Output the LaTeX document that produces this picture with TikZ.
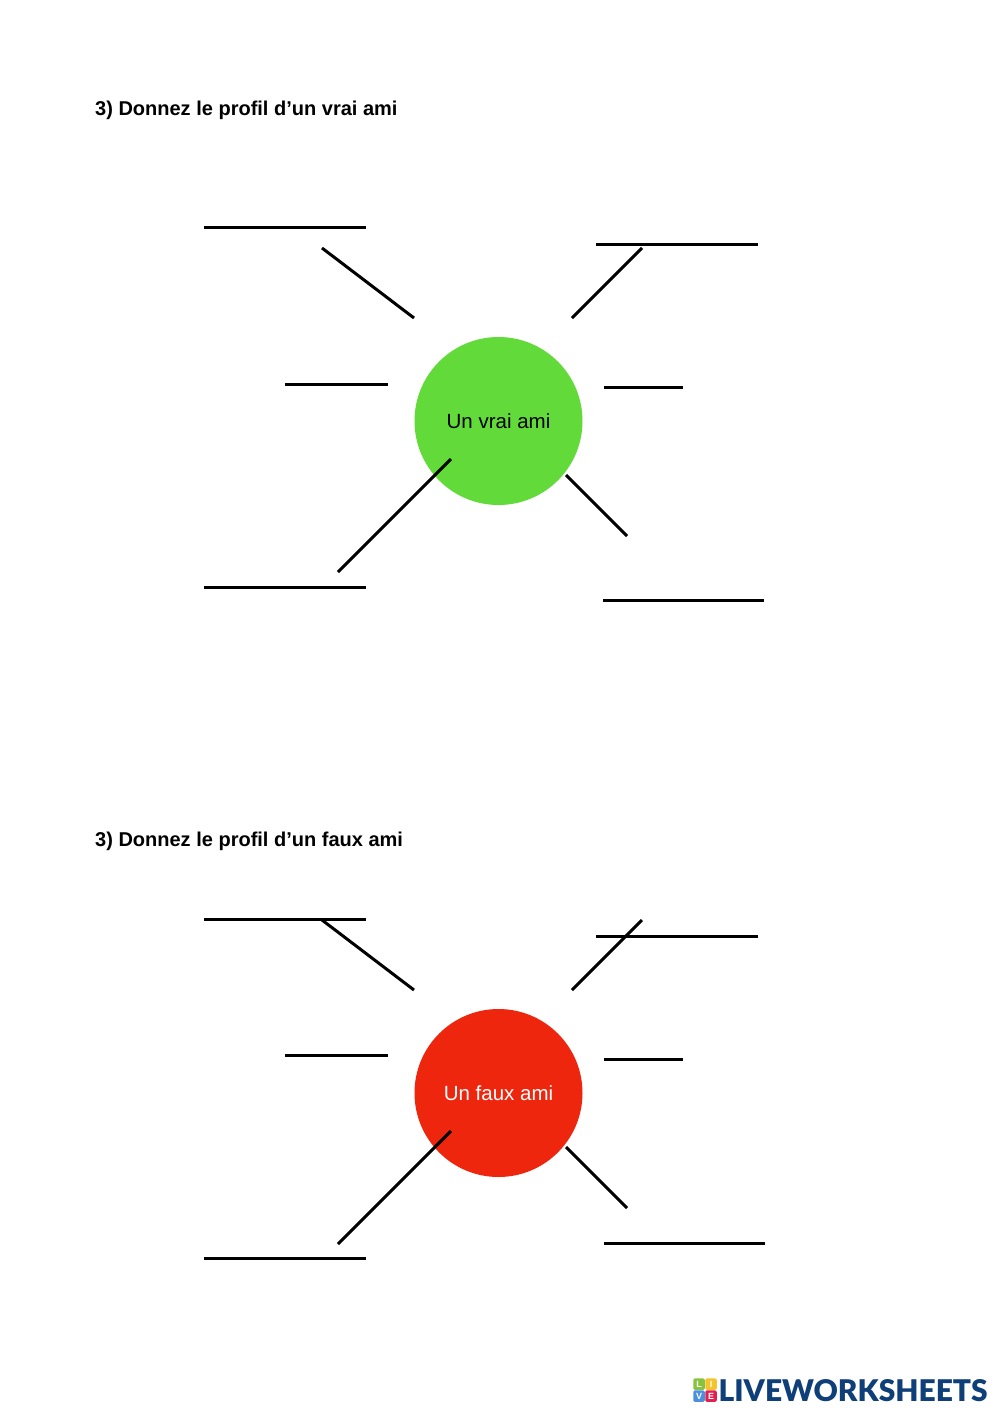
\documentclass[tikz,border=0pt]{standalone}
\usepackage{fontspec}
\setmainfont{Liberation Sans}
\setsansfont{TeX Gyre Heros}
\newfontfamily\logofont{Lato Black}
\definecolor{vert}{HTML}{62DA3A}
\definecolor{rouge}{HTML}{EE260E}
\definecolor{logoblue}{HTML}{0F3F78}
\definecolor{tuileL}{HTML}{86C440}
\definecolor{tuileI}{HTML}{F5C32C}
\definecolor{tuileV}{HTML}{4C8FE0}
\definecolor{tuileE}{HTML}{E2204F}
\tikzset{
  trait/.style={line width=3pt,black},
  titre/.style={anchor=base west,inner sep=0pt,font=\fontsize{20}{24}\selectfont\bfseries},
  rond/.style={circle,minimum size=168pt,inner sep=0pt,font=\fontsize{20.5}{24}\selectfont},
  tuile/.style={minimum size=11.5pt,inner sep=0pt,rounded corners=1.5pt,text=white,font=\fontsize{9}{9}\selectfont\bfseries},
  logotxt/.style={anchor=base west,inner sep=0pt,text=logoblue,font=\fontsize{36}{36}\logofont}
}
\begin{document}
\begin{tikzpicture}[x=1pt,y=-1pt]
\useasboundingbox (0,0) rectangle (1000,1414);
\fill[white] (0,0) rectangle (1000,1414);
\node[titre] (t1) at (95,115) {3) Donnez le profil d’un vrai ami};
\node[titre] (t2) at (95,846) {3) Donnez le profil d’un faux ami};
\node[rond,fill=vert,text=black] (c1) at (498.5,421) {Un vrai ami};
\node[rond,fill=rouge,text=white] (c2) at (498.5,1093) {Un faux ami};
% haut
\draw[trait] (204,227.5) -- (366,227.5);
\draw[trait] (322,248) -- (414,318);
\draw[trait] (596,244) -- (758,244);
\draw[trait] (642,248) -- (572,318);
\draw[trait] (285,384) -- (388,384);
\draw[trait] (604,387) -- (683,387);
\draw[trait] (451,459) -- (338,572);
\draw[trait] (204,587) -- (366,587);
\draw[trait] (566,475) -- (627,536);
\draw[trait] (603,600.5) -- (764,600.5);
% bas
\draw[trait] (204,919) -- (366,919);
\draw[trait] (322,920) -- (414,990);
\draw[trait] (596,936.5) -- (758,936.5);
\draw[trait] (642,920) -- (572,990);
\draw[trait] (285,1055.5) -- (388,1055.5);
\draw[trait] (604,1059) -- (683,1059);
\draw[trait] (451,1131) -- (338,1244);
\draw[trait] (204,1258.5) -- (366,1258.5);
\draw[trait] (566,1147) -- (627,1208);
\draw[trait] (604,1243.5) -- (765,1243.5);
% logo
\node[tuile,fill=tuileL] (l1) at (699,1384) {L};
\node[tuile,fill=tuileI] (l2) at (711,1384) {I};
\node[tuile,fill=tuileV] (l3) at (699,1396) {V};
\node[tuile,fill=tuileE] (l4) at (711,1396) {E};
\node[logotxt] (lw) at (718.5,1401.5) {\resizebox{269pt}{22pt}{LIVEWORKSHEETS}};
\end{tikzpicture}
\end{document}
